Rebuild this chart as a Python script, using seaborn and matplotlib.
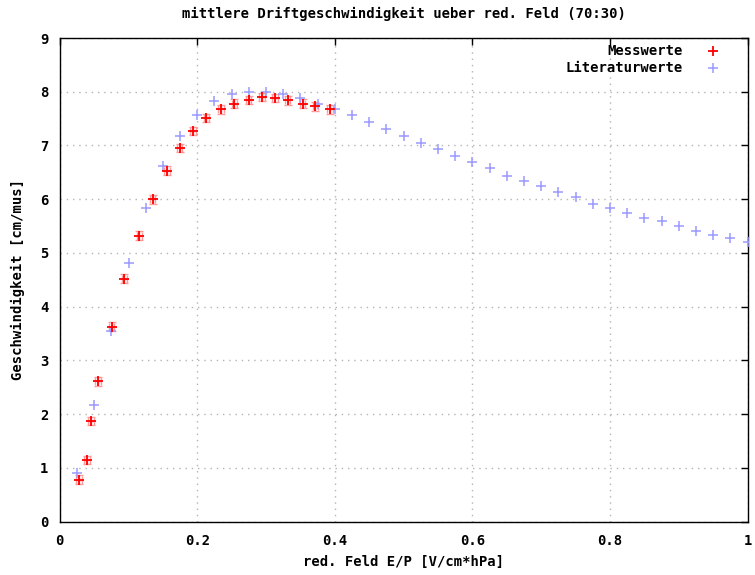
import matplotlib
matplotlib.use("Agg")
import matplotlib.pyplot as plt
import seaborn as sns
import pandas as pd

# Measured drift velocity (red) with uncertainties
mess_x = [0.028, 0.040, 0.0455, 0.0557, 0.0756, 0.0939, 0.1157, 0.1349, 0.156,
          0.1744, 0.1938, 0.2131, 0.2345, 0.2538, 0.2747, 0.2937, 0.313, 0.3314,
          0.3532, 0.3716, 0.393]
mess_y = [0.78, 1.15, 1.87, 2.61, 3.63, 4.52, 5.32, 6.00, 6.53,
          6.95, 7.27, 7.51, 7.67, 7.78, 7.85, 7.90, 7.88, 7.84,
          7.78, 7.73, 7.67]
mess_yerr = [0.08] * len(mess_x)
mess_xerr = [0.004] * len(mess_x)

# Literature values (blue)
lit_x = [0.025, 0.05, 0.075, 0.1, 0.125, 0.15, 0.175, 0.2, 0.225, 0.25,
         0.275, 0.3, 0.325, 0.35, 0.375, 0.4, 0.425, 0.45, 0.475, 0.5,
         0.525, 0.55, 0.575, 0.6, 0.625, 0.65, 0.675, 0.7, 0.725, 0.75,
         0.775, 0.8, 0.825, 0.85, 0.875, 0.9, 0.925, 0.95, 0.975, 1.0]
lit_y = [0.90, 2.17, 3.54, 4.81, 5.84, 6.62, 7.18, 7.57, 7.82, 7.95,
         8.00, 8.00, 7.96, 7.89, 7.78, 7.68, 7.57, 7.43, 7.31, 7.18,
         7.05, 6.94, 6.80, 6.69, 6.58, 6.44, 6.34, 6.24, 6.13, 6.04,
         5.92, 5.83, 5.75, 5.66, 5.59, 5.50, 5.41, 5.34, 5.27, 5.21]

x_ticks = [0, 0.2, 0.4, 0.6, 0.8, 1.0]
x_ticklabels = ["0", "0.2", "0.4", "0.6", "0.8", "1"]
y_ticks = list(range(0, 10))

sns.set_style("white")
plt.rcParams["font.family"] = ["DejaVu Sans Mono", "DejaVu Sans"]
plt.rcParams["font.weight"] = "bold"
plt.rcParams["text.color"] = "black"
plt.rcParams["axes.labelcolor"] = "black"
FS = 10

fig = plt.figure(figsize=(7.55, 5.75), dpi=100)
ax = fig.add_axes([0.0791, 0.0927, 0.9111, 0.8412])

df_mess = pd.DataFrame({"x": mess_x, "y": mess_y})
df_lit = pd.DataFrame({"x": lit_x, "y": lit_y})

red = "#ff0000"
blue = "#9a9aff"

ax.errorbar(mess_x, mess_y, yerr=mess_yerr, xerr=mess_xerr, fmt="none",
            ecolor="#ff9a9a", elinewidth=1.0, capsize=3, capthick=1.0, zorder=2)
sns.scatterplot(data=df_lit, x="x", y="y", marker="+", s=48, color=blue,
                linewidth=1.1, ax=ax, zorder=3, label="Literaturwerte")
sns.scatterplot(data=df_mess, x="x", y="y", marker="+", s=48, color=red,
                linewidth=1.3, ax=ax, zorder=4, label="Messwerte")

ax.set_xlim(0, 1)
ax.set_ylim(0, 9)
ax.set_xticks(x_ticks)
ax.set_xticklabels(x_ticklabels)
ax.set_yticks(y_ticks)
ax.tick_params(direction="in", length=5, width=1, top=True, right=True,
               labelsize=FS, colors="black")
ax.tick_params(axis="y", pad=8)
ax.tick_params(axis="x", pad=9)
for lbl in ax.get_xticklabels() + ax.get_yticklabels():
    lbl.set_fontweight("bold")

ax.grid(True, linestyle=(0, (1, 3.5)), color="#b4b4b4", linewidth=1)
ax.set_axisbelow(True)
for sp in ax.spines.values():
    sp.set_color("black")
    sp.set_linewidth(1)
    sp.set_visible(True)

ax.set_xlabel("red. Feld E/P [V/cm*hPa]", fontsize=FS, fontweight="bold")
ax.set_ylabel("Geschwindigkeit [cm/mus]", fontsize=FS, fontweight="bold")
ax.xaxis.set_label_coords(0.5, -0.083)
ax.xaxis.label.set_va("center")
ax.yaxis.set_label_coords(-0.0606, 0.5)
ax.yaxis.label.set_va("center")

fig.text(0.5346, 1 - 14 / 575, "mittlere Driftgeschwindigkeit ueber red. Feld (70:30)",
         ha="center", va="center", fontsize=FS, fontweight="bold")

handles, labels = ax.get_legend_handles_labels()
order = [labels.index("Messwerte"), labels.index("Literaturwerte")]
leg = ax.legend([handles[i] for i in order], [labels[i] for i in order],
                loc="upper right", markerfirst=False, frameon=False,
                fontsize=FS, handlelength=1.2, handletextpad=1.6,
                labelspacing=0.22, borderaxespad=0.0,
                bbox_to_anchor=(0.97, 1.0))
for t in leg.get_texts():
    t.set_fontweight("bold")
    t.set_color("black")

fig.savefig("out.png", dpi=100, facecolor="white")
